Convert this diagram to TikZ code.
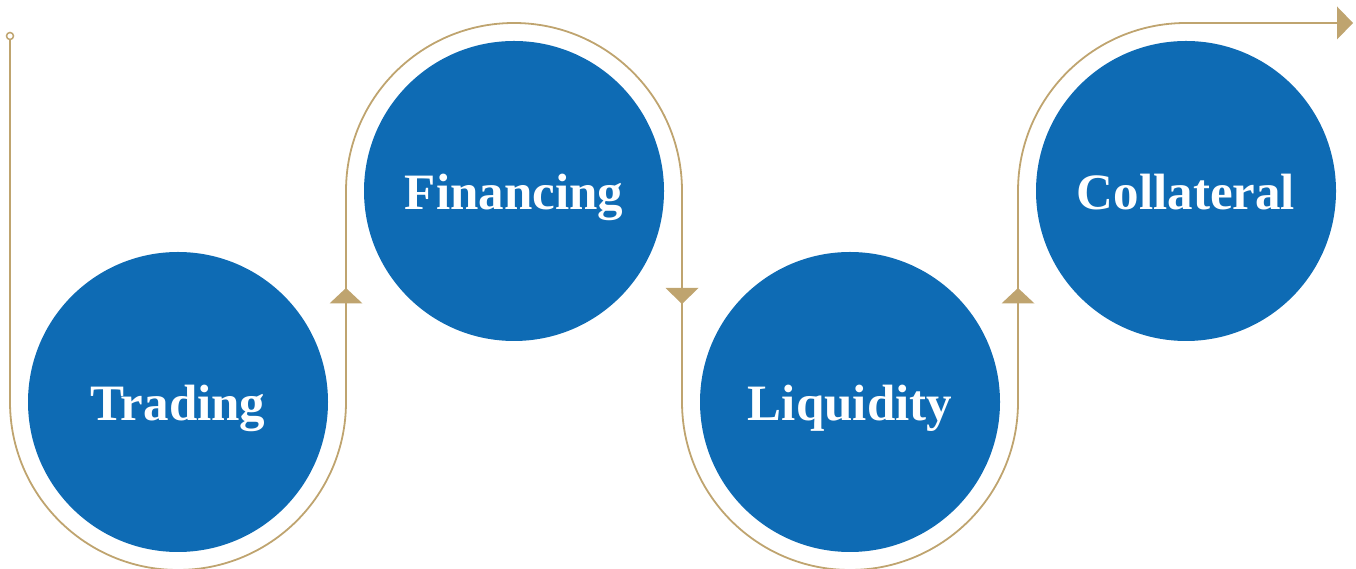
\documentclass[tikz,border=0pt]{standalone}
\usepackage{fontspec}
\setmainfont{Liberation Serif}
\definecolor{blu}{HTML}{0E6BB4}
\definecolor{gold}{HTML}{BFA46F}
\begin{document}
\begin{tikzpicture}[x=1pt,y=1pt,
  disc/.style={circle,fill=blu,minimum size=300pt,inner sep=0pt,text=white,text height=37pt,text depth=0pt,font=\fontsize{51}{60}\selectfont\bfseries},
  route/.style={draw=gold,line width=1.8pt},
  tri/.style={fill=gold}]
\useasboundingbox (0,0) rectangle (1356,569);
\node[disc] (trading) at (178,167) {Trading};
\node[disc] (financing) at (514,378) {Financing};
\node[disc] (liquidity) at (850,167) {Liquidity};
\node[disc] (collateral) at (1186,378) {Collateral};
\coordinate (s) at (10,533);
\coordinate (e) at (1340,546);
\draw[route] (s) -- (10,167) arc[start angle=180,end angle=360,radius=168]
  -- (346,378) arc[start angle=180,end angle=0,radius=168]
  -- (682,167) arc[start angle=180,end angle=360,radius=168]
  -- (1018,378) arc[start angle=180,end angle=90,radius=168] -- (e);
\draw[draw=gold,line width=1.5pt,fill=white] (s) circle[radius=3.5pt];
\fill[tri] (329.5,265.5) -- (362.5,265.5) -- (346,281) -- cycle;
\fill[tri] (665.5,281) -- (698.5,281) -- (682,265) -- cycle;
\fill[tri] (1001.5,265.5) -- (1034.5,265.5) -- (1018,281) -- cycle;
\fill[tri] (1337,562.5) -- (1353,546) -- (1337,529.5) -- cycle;
\end{tikzpicture}
\end{document}
